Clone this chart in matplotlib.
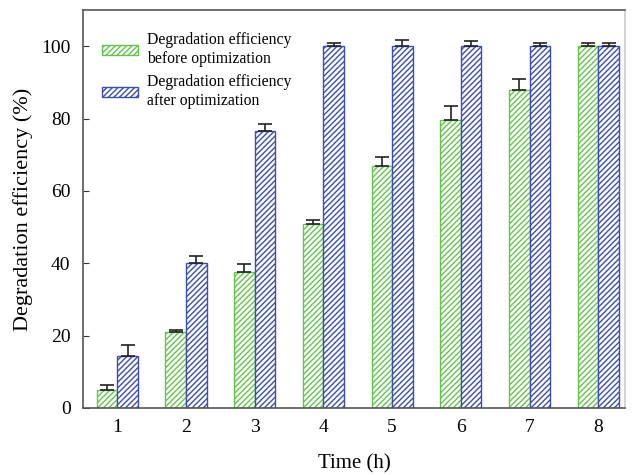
import matplotlib
matplotlib.use("Agg")
import matplotlib.pyplot as plt
import numpy as np

times = [1, 2, 3, 4, 5, 6, 7, 8]
before = [5.0, 21.0, 37.6, 50.9, 66.9, 79.5, 87.8, 100.0]
before_err = [1.4, 0.5, 2.2, 1.0, 2.4, 4.0, 3.1, 0.8]
after = [14.4, 40.2, 76.6, 100.0, 100.0, 100.0, 100.0, 100.0]
after_err = [3.1, 1.8, 2.0, 0.9, 1.7, 1.3, 0.9, 1.0]
labels = ["Degradation efficiency\nbefore optimization",
          "Degradation efficiency\nafter optimization"]

plt.rcParams['font.family'] = ['Liberation Serif', 'DejaVu Serif']
plt.rcParams['hatch.linewidth'] = 1.0

green = '#62C54A'
blue = '#3B4DB3'

fig = plt.figure(figsize=(6.35, 4.75), dpi=100)
ax = fig.add_axes([83/635, 1-408/475, (625-83)/635, (408-10)/475])

x = np.array(times, dtype=float)
w = 0.3
ax.bar(x - w/2, before, w, facecolor='white', edgecolor=green, hatch='//////',
       linewidth=1.0, label=labels[0],
       yerr=[np.zeros(len(before)), before_err], capsize=5,
       error_kw=dict(ecolor='#222222', elinewidth=1.2, capthick=1.2))
ax.bar(x + w/2, after, w, facecolor='white', edgecolor=blue, hatch='//////',
       linewidth=1.0, label=labels[1],
       yerr=[np.zeros(len(after)), after_err], capsize=5,
       error_kw=dict(ecolor='#222222', elinewidth=1.2, capthick=1.2))

ax.set_xlim(0.5, 8.39)
ax.set_ylim(0, 110)
ax.set_yticks([0, 20, 40, 60, 80, 100])
ax.set_xticks(times)
ax.tick_params(axis='y', direction='in', length=4, labelsize=14, pad=9,
               colors='#333333', labelcolor='black')
ax.tick_params(axis='x', length=0, labelsize=14, pad=8)
for s in ax.spines.values():
    s.set_color('#555555')
    s.set_linewidth(1.2)
ax.spines['right'].set_color('#cccccc')

ax.set_xlabel('Time (h)', fontsize=15, labelpad=13)
ax.set_ylabel('Degradation efficiency (%)', fontsize=16, labelpad=6)

leg = ax.legend(loc='upper left', bbox_to_anchor=(0.014, 0.972), frameon=False,
                fontsize=11.3, handlelength=2.3, handleheight=0.55,
                labelspacing=0.5, handletextpad=0.6, borderaxespad=0.3)

fig.savefig('out.png', dpi=100)
